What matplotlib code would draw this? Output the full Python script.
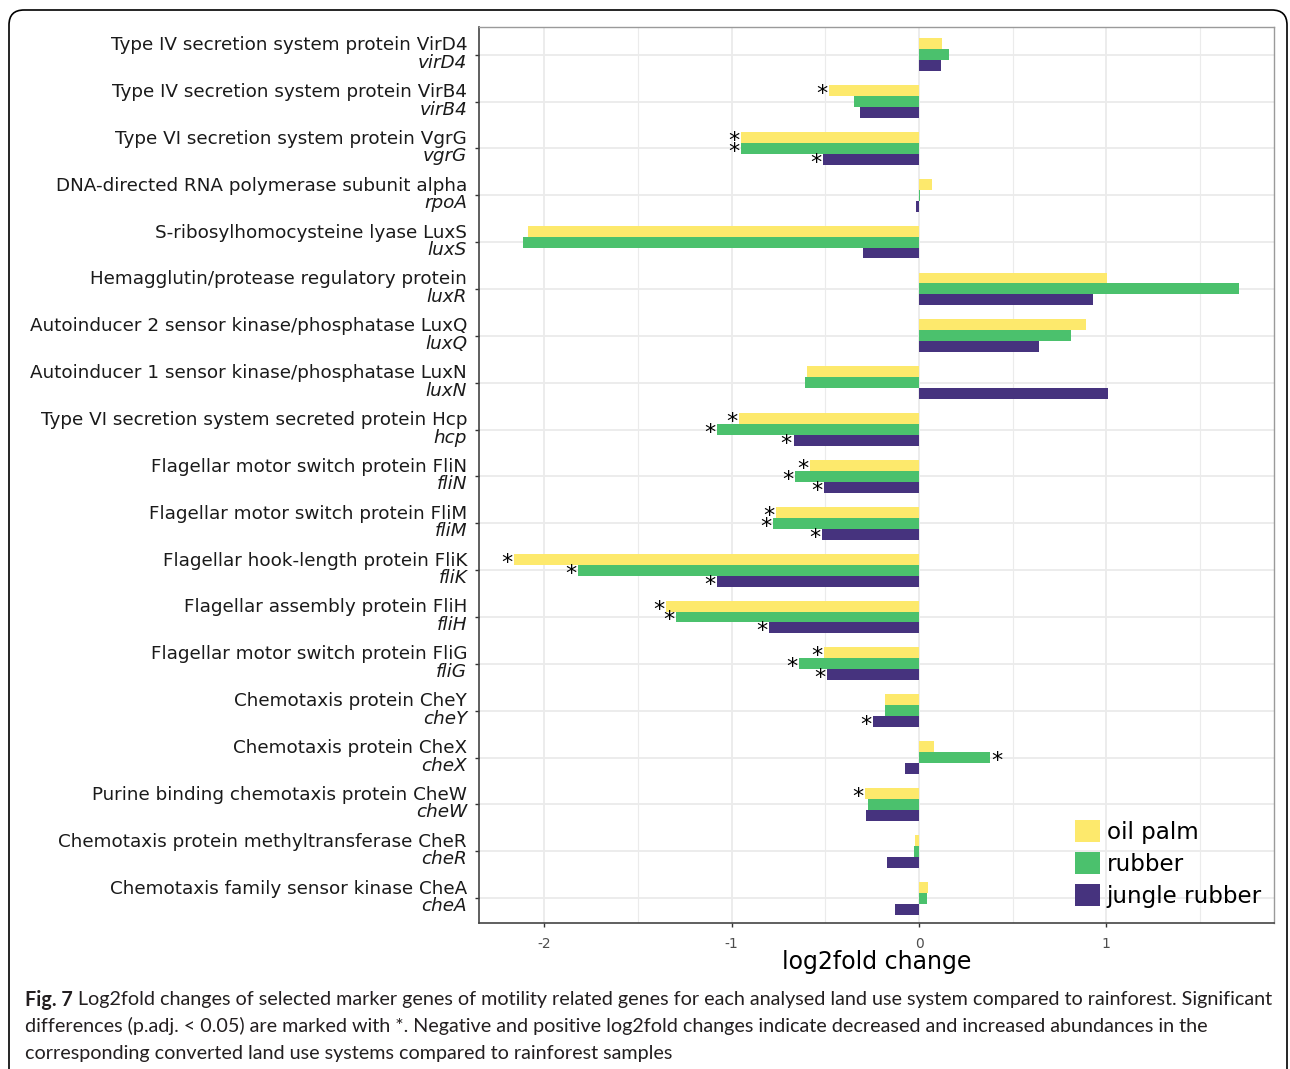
import matplotlib
matplotlib.use("Agg")
import matplotlib.pyplot as plt
from matplotlib.patches import Patch, FancyBboxPatch
from matplotlib.transforms import offset_copy, blended_transform_factory

proteins = ["Type IV secretion system protein VirD4",
            "Type IV secretion system protein VirB4",
            "Type VI secretion system protein VgrG",
            "DNA-directed RNA polymerase subunit alpha",
            "S-ribosylhomocysteine lyase LuxS",
            "Hemagglutin/protease regulatory protein",
            "Autoinducer 2 sensor kinase/phosphatase LuxQ",
            "Autoinducer 1 sensor kinase/phosphatase LuxN",
            "Type VI secretion system secreted protein Hcp",
            "Flagellar motor switch protein FliN",
            "Flagellar motor switch protein FliM",
            "Flagellar hook-length protein FliK",
            "Flagellar assembly protein FliH",
            "Flagellar motor switch protein FliG",
            "Chemotaxis protein CheY",
            "Chemotaxis protein CheX",
            "Purine binding chemotaxis protein CheW",
            "Chemotaxis protein methyltransferase CheR",
            "Chemotaxis family sensor kinase CheA"]
genes = ["virD4", "virB4", "vgrG", "rpoA", "luxS", "luxR", "luxQ", "luxN", "hcp",
         "fliN", "fliM", "fliK", "fliH", "fliG", "cheY", "cheX", "cheW", "cheR", "cheA"]

# log2fold change vs rainforest
oil_palm = [0.12, -0.48, -0.95, 0.07, -2.09, 1.005, 0.89, -0.60, -0.96,
            -0.58, -0.765, -2.16, -1.35, -0.505, -0.18, 0.08, -0.29, -0.02, 0.046]
rubber = [0.16, -0.345, -0.95, 0.007, -2.115, 1.71, 0.81, -0.61, -1.08,
          -0.66, -0.78, -1.82, -1.295, -0.64, -0.18, 0.38, -0.27, -0.025, 0.044]
jungle_rubber = [0.117, -0.317, -0.51, -0.016, -0.297, 0.927, 0.64, 1.01, -0.67,
                 -0.507, -0.52, -1.08, -0.80, -0.49, -0.247, -0.075, -0.283, -0.17, -0.127]

# p.adj < 0.05
sig_oil_palm = [0, 1, 1, 0, 0, 0, 0, 0, 1, 1, 1, 1, 1, 1, 0, 0, 1, 0, 0]
sig_rubber = [0, 0, 1, 0, 0, 0, 0, 0, 1, 1, 1, 1, 1, 1, 0, 1, 0, 0, 0]
sig_jungle = [0, 0, 1, 0, 0, 0, 0, 0, 1, 1, 1, 1, 1, 1, 1, 0, 0, 0, 0]

series = [("oil palm", oil_palm, sig_oil_palm, "#FDE96C"),
          ("rubber", rubber, sig_rubber, "#4BC16D"),
          ("jungle rubber", jungle_rubber, sig_jungle, "#46337E")]

W, H = 1290, 1069
fig = plt.figure(figsize=(W / 100, H / 100), dpi=100)
ax = fig.add_axes([479 / W, 1 - 923 / H, (1274 - 479) / W, (923 - 27) / H])

ypos = list(range(len(genes)))
bh = 0.7 / 3
for k, (name, vals, sig, col) in enumerate(series):
    yy = [y + (k - 1) * bh for y in ypos]
    ax.barh(yy, vals, height=bh, color=col, label=name, zorder=3)
    for y, v, s in zip(yy, vals, sig):
        if not s:
            continue
        if v < 0:
            tr = offset_copy(ax.transData, fig=fig, x=-1.5, y=-9.5, units="dots")
            ax.text(v, y, "*", ha="right", va="baseline", fontsize=16, transform=tr, zorder=4)
        else:
            tr = offset_copy(ax.transData, fig=fig, x=1, y=-9.5, units="dots")
            ax.text(v, y, "*", ha="left", va="baseline", fontsize=16, transform=tr, zorder=4)

ax.set_xlim(-2.349, 1.895)
ax.set_ylim(18.53, -0.59)
ax.set_xticks([-2, -1, 0, 1])
ax.set_xticks([-1.5, -0.5, 0.5, 1.5], minor=True)
ax.set_xticklabels(["-2", "-1", "0", "1"])
ax.set_yticks(ypos)
ax.set_yticklabels([])
ax.tick_params(axis="x", which="major", length=3, width=1, color="#333333",
               labelsize=10, labelcolor="#4D4D4D", pad=7)
ax.tick_params(axis="x", which="minor", length=0)
ax.tick_params(axis="y", length=3, width=1, color="#333333")
ax.grid(which="major", color="#EBEBEB", linewidth=1.3, zorder=0)
ax.grid(which="minor", axis="x", color="#EBEBEB", linewidth=0.8, zorder=0)
ax.set_axisbelow(True)
for side in ["top", "right"]:
    ax.spines[side].set_color("#9A9A9A")
    ax.spines[side].set_linewidth(1)
for side in ["left", "bottom"]:
    ax.spines[side].set_color("#444444")
    ax.spines[side].set_linewidth(1.2)

# two-line y labels: protein name above, gene name in italics below
lab = blended_transform_factory(ax.transAxes, ax.transData)
for y, p, g in zip(ypos, proteins, genes):
    ax.text(-0.015, y, p, ha="right", va="center", fontsize=13.2, color="#1A1A1A",
            transform=offset_copy(lab, fig=fig, y=9.5, units="dots"), clip_on=False)
    ax.text(-0.015, y, g, ha="right", va="center", fontsize=13.2, color="#1A1A1A",
            style="italic", transform=offset_copy(lab, fig=fig, y=-8, units="dots"),
            clip_on=False)

fig.text(876.5 / W, 1 - 962 / H, "log2fold change", ha="center", va="center",
         fontsize=17, color="black")

handles = [Patch(facecolor=c, label=n) for n, _, _, c in series]
ax.legend(handles=handles, loc="lower right", bbox_to_anchor=(0.985, 0.0167),
          frameon=False, fontsize=16.6, handlelength=1.08, handleheight=1.08,
          labelspacing=0.36, handletextpad=0.3, borderpad=0, borderaxespad=0)

# outer frame with rounded corners
frame = FancyBboxPatch((0.09, -0.5), 12.78, 11.09, boxstyle="round,pad=0,rounding_size=0.15",
                       transform=fig.dpi_scale_trans, facecolor="none", edgecolor="black",
                       linewidth=1.2)
fig.add_artist(frame)

# caption, sized so the first line spans the figure width
cap_font = ["Lato", "DejaVu Sans"]
cap_lines = ["Log2fold changes of selected marker genes of motility related genes for each analysed land use system compared to rainforest. Significant",
             "differences (p.adj. < 0.05) are marked with *. Negative and positive log2fold changes indicate decreased and increased abundances in the",
             "corresponding converted land use systems compared to rainforest samples"]
cap_y = [1000, 1026, 1053]
cap_size = 14
fig_lbl = fig.text(25 / W, 1 - cap_y[0] / H, "Fig. 7", ha="left", va="center",
                   fontsize=cap_size, family=cap_font, weight="bold", color="#231F20")
first = fig.text(0, 1 - cap_y[0] / H, cap_lines[0], ha="left", va="center",
                 fontsize=cap_size, family=cap_font, color="#231F20")
rend = fig.canvas.get_renderer()
total = fig_lbl.get_window_extent(rend).width + 5 + first.get_window_extent(rend).width
cap_size = cap_size * (1275 - 25) / total
fig_lbl.set_fontsize(cap_size)
first.set_fontsize(cap_size)
bb = fig_lbl.get_window_extent(rend)
first.set_x((bb.x1 + 5) / W)
for line, y in zip(cap_lines[1:], cap_y[1:]):
    fig.text(25 / W, 1 - y / H, line, ha="left", va="center", fontsize=cap_size,
             family=cap_font, color="#231F20")

fig.savefig("out.png", dpi=100)
